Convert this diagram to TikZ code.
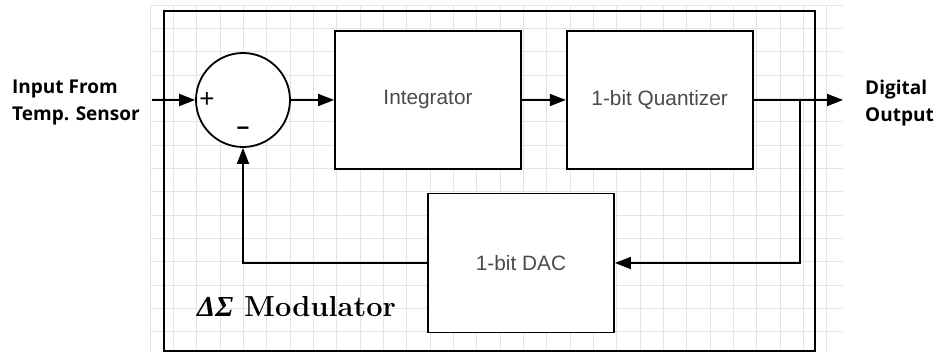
\documentclass[tikz,border=0pt]{standalone}
\usepackage{fontspec}
\usetikzlibrary{arrows.meta}
\newfontfamily\labelfont{Open Sans}
\newfontfamily\boxfont{Liberation Sans}
\newfontfamily\greekfont{Liberation Serif}
\definecolor{gridgray}{HTML}{E4E4E4}
\definecolor{boxtext}{HTML}{4A4A4A}
\begin{document}
\begin{tikzpicture}[x=1pt,y=-1pt,
  block/.style={draw=black, line width=1.8pt, fill=white, minimum width=186pt,
    minimum height=138pt, inner sep=0pt, text=boxtext,
    font=\boxfont\fontsize{20.8}{24}\selectfont},
  summer/.style={circle, draw=black, line width=1.8pt, fill=white,
    minimum size=94pt, inner sep=0pt},
  flow/.style={line width=1.8pt, -{Triangle[length=16pt,width=12pt]}},
  sidelabel/.style={align=left, inner sep=0pt,
    font=\labelfont\bfseries\fontsize{19}{27}\selectfont},
  sign/.style={inner sep=0pt, font=\boxfont\fontsize{26}{28}\selectfont}]
  \useasboundingbox (0,0) rectangle (939,352);

  % background grid
  \foreach \k in {0,...,29}
    \draw[gridgray, line width=0.8pt] ({150+23.333*\k},5) -- ({150+23.333*\k},352);
  \foreach \k in {0,...,14}
    \draw[gridgray, line width=0.8pt] (150,{5+23.333*\k}) -- (843,{5+23.333*\k});

  % modulator frame
  \node[draw=black, line width=1.3pt, minimum width=651pt, minimum height=340pt,
    inner sep=0pt] (frame) at (489.5,181) {};

  % blocks
  \node[summer] (sum) at (243,100) {};
  \node[sign] (plus) at (207,100) {+};
  \node[sign, font=\boxfont\bfseries\fontsize{22}{24}\selectfont] (minus) at (243,131) {−};
  \node[block] (int) at (428,100) {Integrator};
  \node[block] (quant) at (659.7,100) {1-bit Quantizer};
  \node[block, minimum height=139pt] (dac) at (521,263) {1-bit DAC};

  % labels
  \node[sidelabel, anchor=west] (inlabel) at (12,103) {Input From\\Temp. Sensor};
  \node[sidelabel, anchor=west] (outlabel) at (865,103) {Digital\\Output};
  \node[anchor=base west, inner sep=0pt, font=\bfseries\fontsize{29}{31}\selectfont]
    (title) at (197,317) {{\greekfont\bfseries\itshape ΔΣ} Modulator};

  % signal path
  \coordinate (in) at (152,100);
  \coordinate (out) at (843,100);
  \coordinate (tap) at (800,100);
  \draw[flow] (in) -- (sum.west);
  \draw[flow] (sum.east) -- (int.west);
  \draw[flow] (int.east) -- (quant.west);
  \draw[flow] (quant.east) -- (out);
  \draw[flow] (tap) |- (dac.east);
  \draw[flow] (dac.west) -| (sum.south);
\end{tikzpicture}
\end{document}
